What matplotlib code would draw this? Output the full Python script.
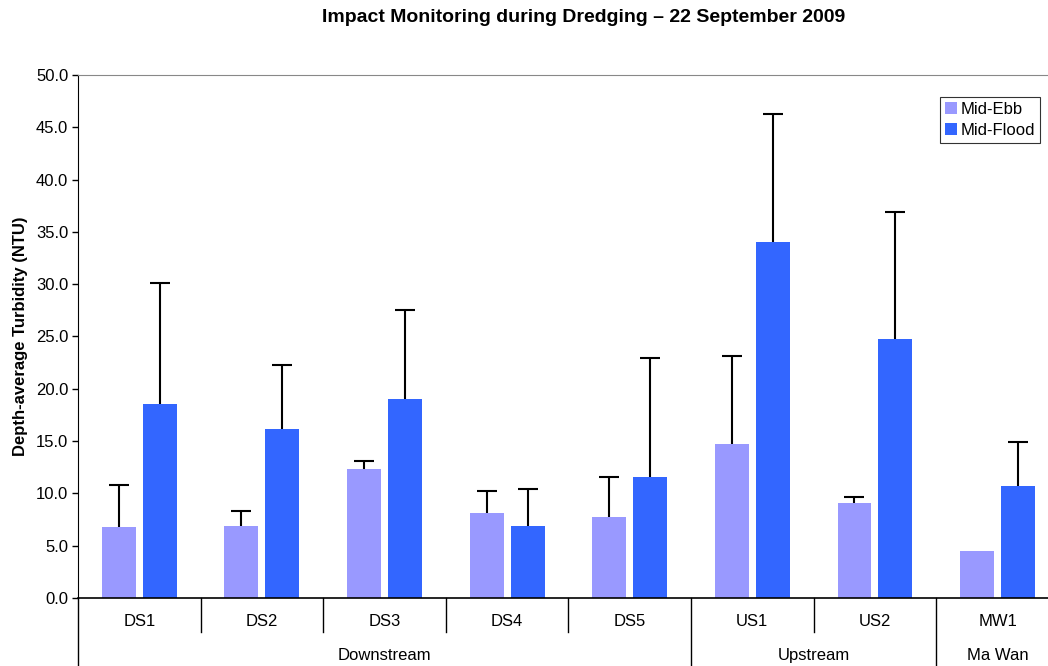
import matplotlib
matplotlib.use("Agg")
import matplotlib.pyplot as plt
import matplotlib.transforms as mtransforms
import numpy as np

plt.rcParams['font.family'] = ['Liberation Sans', 'DejaVu Sans']

stations = ['DS1', 'DS2', 'DS3', 'DS4', 'DS5', 'US1', 'US2', 'MW1']
ebb = [6.8, 6.9, 12.3, 8.1, 7.7, 14.7, 9.1, 4.5]
ebb_err = [4.0, 1.4, 0.8, 2.1, 3.9, 8.4, 0.6, 0.0]
flood = [18.5, 16.2, 19.0, 6.9, 11.6, 34.0, 24.8, 10.75]
flood_err = [11.6, 6.1, 8.5, 3.5, 11.3, 12.3, 12.1, 4.15]
areas = ['Downstream', 'Upstream', 'Ma Wan']
area_sizes = [5, 2, 1]

fig = plt.figure(figsize=(10.48, 6.66), dpi=100)
ax = fig.add_axes([0.0744, 0.1021, 0.936, 0.7853])

x = np.arange(len(stations))
w = 0.277
off = 0.167
ax.bar(x - off, ebb, w, color='#9999FF', label='Mid-Ebb', zorder=2)
ax.bar(x + off, flood, w, color='#3366FF', label='Mid-Flood', zorder=2)


def upper_errors(xs, ys, errs):
    xs, ys, errs = np.asarray(xs), np.asarray(ys), np.asarray(errs)
    keep = errs > 0
    _, caps, _ = ax.errorbar(xs[keep], ys[keep], yerr=[np.zeros(keep.sum()), errs[keep]],
                             fmt='none', ecolor='black', elinewidth=1.5, capsize=7,
                             capthick=1.5, zorder=3)
    caps[0].set_visible(False)  # only the upper cap


upper_errors(x - off, ebb, ebb_err)
upper_errors(x + off, flood, flood_err)

ax.set_xlim(-0.5, len(stations) - 0.5)
ax.set_ylim(0, 50)
ticks = np.arange(0, 50.1, 5)
ax.set_yticks(ticks)
ax.set_yticklabels([f'{v:.1f}' for v in ticks], fontsize=12)
ax.tick_params(axis='y', direction='out', length=4, width=1, pad=3)
ax.set_xticks([])
ax.spines['right'].set_visible(False)
ax.spines['top'].set_color('#888888')
ax.spines['left'].set_color('black')
ax.spines['bottom'].set_color('black')
ax.spines['bottom'].set_linewidth(1.2)

ax.set_ylabel('Depth-average Turbidity (NTU)', fontsize=12, fontweight='bold', labelpad=6)

# category axis with two label rows
trans = mtransforms.blended_transform_factory(ax.transData, ax.transAxes)
starts = np.cumsum([0] + area_sizes[:-1])
major = set(starts)
for i in range(len(stations)):
    ybot = -0.13 if i in major else -0.065
    ax.plot([i - 0.5, i - 0.5], [0, ybot], color='black', lw=1,
            transform=trans, clip_on=False)
    ax.text(i, -0.044, stations[i], transform=trans, ha='center', va='center', fontsize=12)
for a, s, n in zip(areas, starts, area_sizes):
    ax.text(s + (n - 1) / 2, -0.109, a, transform=trans, ha='center', va='center', fontsize=12)

leg = ax.legend(loc='upper right', bbox_to_anchor=(0.9806, 0.958),
                fontsize=12, frameon=True, fancybox=False, handlelength=0.7,
                handleheight=0.7, handletextpad=0.2, borderpad=0.3, labelspacing=0.35,
                borderaxespad=0)
leg.get_frame().set_edgecolor('black')
leg.get_frame().set_linewidth(0.8)

fig.text(0.557, 0.973, 'Impact Monitoring during Dredging \u2013 22 September 2009',
         fontsize=14, fontweight='bold', ha='center', va='center')

fig.savefig('out.png', dpi=100)
